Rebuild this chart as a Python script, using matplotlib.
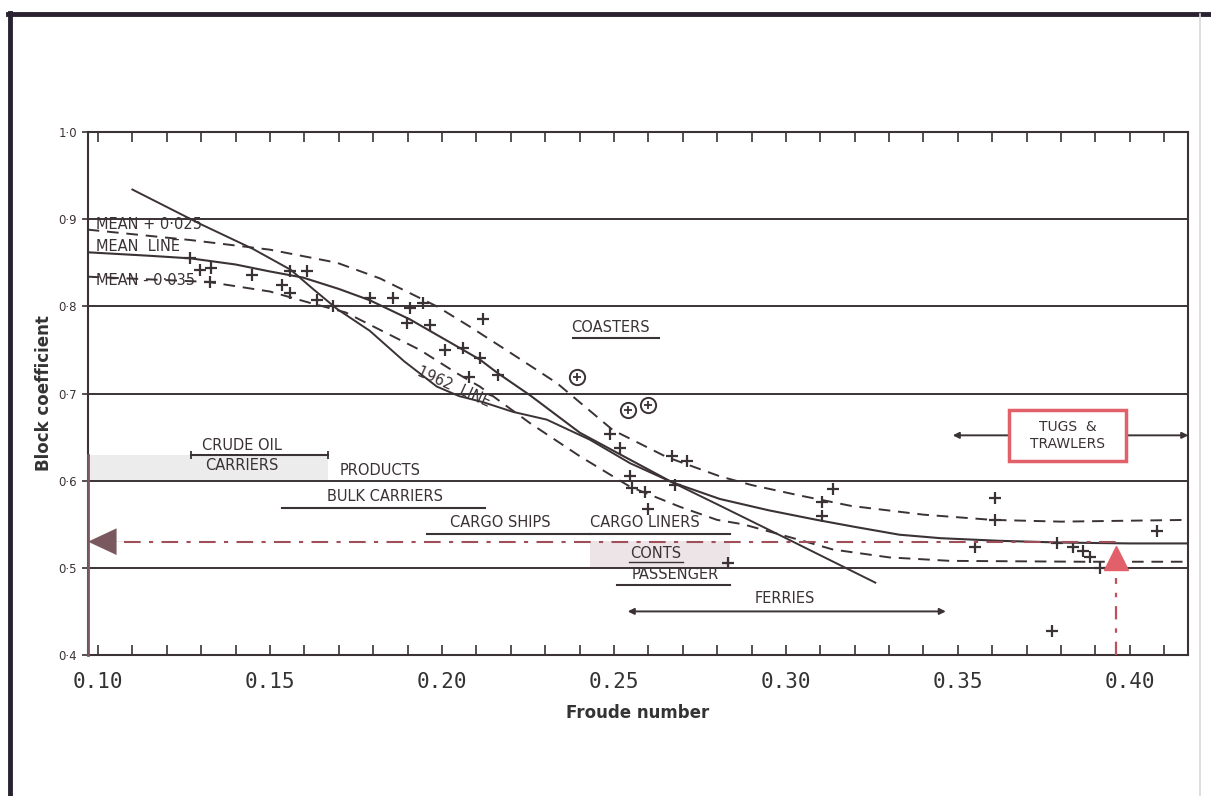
import matplotlib
matplotlib.use("Agg")
import matplotlib.pyplot as plt
from matplotlib.patches import Rectangle
from matplotlib.lines import Line2D

# ---- curves (Froude number, block coefficient) ----
fn_mean = [0.097, 0.115, 0.127, 0.140, 0.150, 0.1596, 0.170, 0.179, 0.1907, 0.2044,
           0.211, 0.216, 0.2256, 0.2401, 0.2547, 0.267, 0.2808, 0.295, 0.309, 0.320,
           0.333, 0.345, 0.362, 0.380, 0.400, 0.417]
cb_mean = [0.862, 0.858, 0.855, 0.848, 0.840, 0.833, 0.820, 0.807, 0.785, 0.754,
           0.739, 0.724, 0.698, 0.655, 0.624, 0.598, 0.579, 0.566, 0.555, 0.547,
           0.538, 0.534, 0.531, 0.529, 0.528, 0.528]

fn_upper = [0.097, 0.127, 0.150, 0.1695, 0.182, 0.1887, 0.1985, 0.208, 0.2198, 0.2334,
            0.2497, 0.2654, 0.2808, 0.290, 0.304, 0.319, 0.340, 0.360, 0.380, 0.417]
cb_upper = [0.888, 0.876, 0.865, 0.850, 0.832, 0.819, 0.800, 0.777, 0.747, 0.712,
            0.658, 0.627, 0.605, 0.595, 0.583, 0.571, 0.561, 0.555, 0.553, 0.555]

fn_lower = [0.097, 0.132, 0.150, 0.1616, 0.172, 0.182, 0.1936, 0.204, 0.211, 0.2256,
            0.2401, 0.2547, 0.2692, 0.280, 0.2875, 0.304, 0.3137, 0.330, 0.3477, 0.386, 0.417]
cb_lower = [0.834, 0.828, 0.817, 0.804, 0.793, 0.773, 0.750, 0.724, 0.708, 0.666,
            0.628, 0.593, 0.570, 0.555, 0.550, 0.532, 0.521, 0.512, 0.508, 0.507, 0.507]

fn_1962 = [0.110, 0.130, 0.145, 0.156, 0.1625, 0.1695, 0.179, 0.189, 0.1985, 0.205,
           0.212, 0.2206, 0.2305, 0.243, 0.2547, 0.267, 0.281, 0.300, 0.326]
cb_1962 = [0.934, 0.894, 0.866, 0.842, 0.820, 0.797, 0.772, 0.737, 0.708, 0.697,
           0.690, 0.679, 0.670, 0.647, 0.620, 0.598, 0.571, 0.534, 0.483]

# ---- individual ships ----
ship_fn = [0.1267, 0.1297, 0.133, 0.1448, 0.1558, 0.1608, 0.1535, 0.1558, 0.1326, 0.1637,
           0.1683, 0.179, 0.1858, 0.1907, 0.1945, 0.1898, 0.1965, 0.212, 0.2009, 0.206,
           0.211, 0.208, 0.2163, 0.2488, 0.2517, 0.2669, 0.2712, 0.2547, 0.2552, 0.259,
           0.2677, 0.2599, 0.3137, 0.3105, 0.3105, 0.2831, 0.3608, 0.3608, 0.4078, 0.355,
           0.3788, 0.3834, 0.3863, 0.3884, 0.3913, 0.3773]
ship_cb = [0.856, 0.842, 0.844, 0.836, 0.840, 0.840, 0.825, 0.815, 0.828, 0.807,
           0.800, 0.810, 0.810, 0.798, 0.804, 0.781, 0.779, 0.785, 0.750, 0.752,
           0.741, 0.719, 0.721, 0.653, 0.638, 0.628, 0.622, 0.605, 0.592, 0.587,
           0.595, 0.567, 0.590, 0.576, 0.559, 0.506, 0.580, 0.555, 0.542, 0.524,
           0.529, 0.524, 0.519, 0.512, 0.500, 0.427]
circled_fn = [0.2392, 0.254, 0.2599]
circled_cb = [0.719, 0.681, 0.687]

# ---- ship-type ranges: label, Fn from, Fn to, Cb level ----
range_labels = ["CRUDE OIL\nCARRIERS", "BULK CARRIERS", "CARGO SHIPS", "CARGO LINERS",
                "PASSENGER", "FERRIES", "COASTERS", "TUGS  &\nTRAWLERS"]
range_fn_lo = [0.127, 0.1535, 0.1956, 0.243, 0.251, 0.254, 0.238, 0.3485]
range_fn_hi = [0.167, 0.2125, 0.243, 0.2837, 0.2837, 0.3465, 0.263, 0.417]
range_cb = [0.630, 0.569, 0.539, 0.539, 0.480, 0.450, 0.764, 0.652]

design_fn = 0.396
design_cb = 0.53

x_ticks = [0.10, 0.15, 0.20, 0.25, 0.30, 0.35, 0.40]
x_ticklabels = ["0.10", "0.15", "0.20", "0.25", "0.30", "0.35", "0.40"]
y_ticks = [0.4, 0.5, 0.6, 0.7, 0.8, 0.9, 1.0]
y_ticklabels = ["0·4", "0·5", "0·6", "0·7", "0·8", "0·9", "1·0"]
grid_levels = [0.5, 0.6, 0.7, 0.8, 0.9]

INK = "#3b3236"
MAUVE = "#7a5860"
RED = "#e2606a"

fig = plt.figure(figsize=(12.11, 7.96), dpi=100)
fig.patch.set_facecolor("white")

# page frame
fig.add_artist(Line2D([0.0083, 0.0083], [0.0, 0.984], color="#2a2230", lw=3.5))
fig.add_artist(Line2D([0.0066, 1.0], [0.982, 0.982], color="#2a2230", lw=3.5))
fig.add_artist(Line2D([0.991, 0.991], [0.0, 0.982], color="#d8d8d8", lw=1.2))

ax = fig.add_axes([88 / 1211, 1 - 655 / 796, 1100 / 1211, 523 / 796])
ax.set_xlim(0.0971, 0.4169)
ax.set_ylim(0.4, 1.0)

# shaded blocks
ax.add_patch(Rectangle((0.0971, 0.6), 0.167 - 0.0971, 0.03, facecolor="#ececec",
                       edgecolor="none", zorder=0))
ax.add_patch(Rectangle((0.243, 0.5), 0.2837 - 0.243, 0.031, facecolor="#ece4e6",
                       edgecolor="none", zorder=0))

for lv in grid_levels:
    ax.axhline(lv, color=INK, lw=1.4, zorder=1)

# curves
ax.plot(fn_mean, cb_mean, color=INK, lw=1.5, zorder=3)
ax.plot(fn_1962, cb_1962, color=INK, lw=1.4, zorder=3)
ax.plot(fn_upper, cb_upper, color=INK, lw=1.4, ls=(0, (6, 4)), zorder=3)
ax.plot(fn_lower, cb_lower, color=INK, lw=1.4, ls=(0, (6, 4)), zorder=3)

# ships
ax.plot(ship_fn, ship_cb, ls="none", marker="+", ms=8, mew=1.6, color=INK, zorder=4)
ax.plot(circled_fn, circled_cb, ls="none", marker="o", ms=11, mfc="white", mew=1.4,
        mec=INK, zorder=4)
ax.plot(circled_fn, circled_cb, ls="none", marker="+", ms=6, mew=1.3, color=INK, zorder=5)

hand = dict(color=INK, fontsize=10.5, family="DejaVu Sans", zorder=6)

# ship-type range bars
for lab, a, b, c in zip(range_labels, range_fn_lo, range_fn_hi, range_cb):
    if lab.startswith("TUGS") or lab == "FERRIES":
        ax.annotate("", xy=(a, c), xytext=(b, c),
                    arrowprops=dict(arrowstyle="<|-|>", color=INK, lw=1.4,
                                    mutation_scale=9, shrinkA=0, shrinkB=0), zorder=4)
    else:
        ax.plot([a, b], [c, c], color=INK, lw=1.5, zorder=4)
        if lab.startswith("CRUDE"):
            ax.plot([a, b], [c, c], ls="none", marker="|", ms=6, mew=1.3, color=INK)

crude_top, crude_bottom = range_labels[0].split("\n")
ax.text(0.1419, range_cb[0] + 0.002, crude_top, ha="center", va="bottom",
        bbox=dict(facecolor="white", edgecolor="none", pad=0.5), **hand)
ax.text(0.1419, range_cb[0] - 0.004, crude_bottom, ha="center", va="top", **hand)
ax.text(0.1834, range_cb[1] + 0.004, range_labels[1], ha="center", va="bottom", **hand)
ax.text(0.2169, range_cb[2] + 0.004, range_labels[2], ha="center", va="bottom", **hand)
ax.text(0.2590, range_cb[3] + 0.004, range_labels[3], ha="center", va="bottom", **hand)
ax.text(0.2677, range_cb[4] + 0.004, range_labels[4], ha="center", va="bottom", **hand)
ax.text(0.2997, range_cb[5] + 0.006, range_labels[5], ha="center", va="bottom", **hand)
ax.text(0.2490, range_cb[6] + 0.003, range_labels[6], ha="center", va="bottom", **hand)
ax.text(0.2620, 0.508, "CONTS", ha="center", va="bottom", **hand)
ax.plot([0.2545, 0.2700], [0.507, 0.507], color=INK, lw=1.0)
ax.text(0.1820, 0.603, "PRODUCTS", ha="center", va="bottom", **hand)

# curve labels
ax.text(0.0995, 0.894, "MEAN + 0·025", ha="left", va="center", **hand)
ax.text(0.0995, 0.869, "MEAN  LINE", ha="left", va="center", **hand)
ax.text(0.0995, 0.830, "MEAN - 0·035", ha="left", va="center", **hand)
ax.text(0.2035, 0.708, "1962  LINE", ha="center", va="center", rotation=-24, **hand)

# tugs & trawlers box
ax.add_patch(Rectangle((0.365, 0.622), 0.034, 0.059, facecolor="white",
                       edgecolor=RED, lw=2.5, zorder=7))
ax.text(0.382, 0.652, range_labels[7], ha="center", va="center", linespacing=1.3,
        color=INK, fontsize=10, zorder=8)

# design point and its read-off
ax.plot([0.1075, design_fn], [design_cb, design_cb], color="#a04f5a", lw=1.5,
        ls=(0, (8, 4, 2, 4)), zorder=5)
ax.plot([design_fn, design_fn], [0.4, 0.488], color="#c0505c", lw=1.6,
        ls=(0, (6, 4, 2, 4)), zorder=5)
ax.plot([design_fn], [0.511], marker="^", ms=17, color=RED, mec=RED, zorder=8)
ax.annotate("", xy=(0.0971, design_cb), xytext=(0.109, design_cb),
            arrowprops=dict(arrowstyle="-|>,head_length=0.6,head_width=0.28",
                            mutation_scale=34, color=MAUVE, lw=0.1, shrinkA=0, shrinkB=0),
            zorder=9)

# axes styling
for s in ax.spines.values():
    s.set_color(INK)
    s.set_linewidth(1.5)
ax.plot([0.0971, 0.0971], [0.4, 0.63], color=MAUVE, lw=2.0, clip_on=False, zorder=9)

ax.set_xticks(x_ticks)
ax.set_xticklabels(x_ticklabels, family="DejaVu Sans Mono", fontsize=15, color="#333333")
ax.set_xticks([0.10 + 0.01 * k for k in range(32)], minor=True)
ax.tick_params(axis="x", which="both", direction="in", top=True, color=INK, width=1.2)
ax.tick_params(axis="x", which="major", length=7, pad=12)
ax.tick_params(axis="x", which="minor", length=7)
ax.set_yticks(y_ticks)
ax.set_yticklabels(y_ticklabels, fontsize=8.5, color=INK)
ax.tick_params(axis="y", direction="out", length=4, color=INK, width=1.2, pad=4)

ax.set_xlabel("Froude number", fontsize=12, fontweight="bold", color="#333333", labelpad=9)
ax.set_ylabel("Block coefficient", fontsize=12, fontweight="bold", color="#333333",
              labelpad=4)

fig.savefig("out.png", dpi=100, facecolor="white")
